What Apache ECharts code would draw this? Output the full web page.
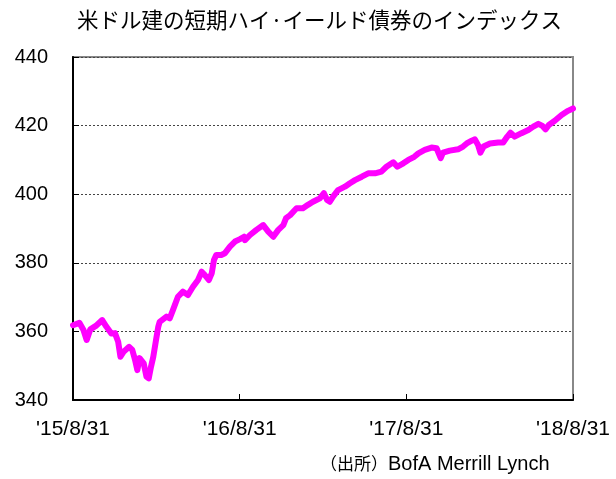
<!DOCTYPE html>
<html>
<head>
<meta charset="utf-8">
<script src="https://cdn.jsdelivr.net/npm/echarts@6/dist/echarts.min.js"></script>
<style>html,body{margin:0;padding:0;background:#fff}#c{width:616px;height:479px}</style>
</head>
<body>
<div id="c"></div>
<script>
const titleText = "米ドル建の短期ハイ·イールド債券のインデックス";
const sourcePrefix = "（出所）";
const sourceName = "BofA Merrill Lynch";
const startDate = "2015-08-31";
const endDate = "2018-08-31";
const xTickLabels = ["'15/8/31", "'16/8/31", "'17/8/31", "'18/8/31"];
const yTicks = [340, 360, 380, 400, 420, 440];

const dates = [
  "2015-08-31","2015-09-14","2015-09-23","2015-09-30","2015-10-08","2015-10-20","2015-11-03","2015-11-12",
  "2015-11-23","2015-12-01","2015-12-08","2015-12-13","2015-12-20","2016-01-01","2016-01-08","2016-01-14",
  "2016-01-19","2016-01-24","2016-02-02","2016-02-08","2016-02-13","2016-02-18","2016-02-23","2016-02-29",
  "2016-03-05","2016-03-08","2016-03-12","2016-03-23","2016-03-30","2016-04-06","2016-04-17","2016-04-28",
  "2016-05-09","2016-05-20","2016-05-31","2016-06-08","2016-06-15","2016-06-24","2016-06-30","2016-07-05",
  "2016-07-10","2016-07-21","2016-07-29","2016-08-09","2016-08-20","2016-08-31","2016-09-09","2016-09-11",
  "2016-09-22","2016-10-06","2016-10-21","2016-11-01","2016-11-12","2016-11-23","2016-12-04","2016-12-10",
  "2016-12-19","2017-01-02","2017-01-16","2017-01-27","2017-02-07","2017-02-22","2017-03-03","2017-03-10",
  "2017-03-16","2017-03-23","2017-04-03","2017-04-18","2017-04-29","2017-05-10","2017-05-25","2017-06-08",
  "2017-06-23","2017-07-07","2017-07-18","2017-08-02","2017-08-11","2017-08-24","2017-09-04","2017-09-17",
  "2017-09-26","2017-10-10","2017-10-25","2017-11-05","2017-11-14","2017-11-19","2017-12-04","2017-12-22",
  "2018-01-02","2018-01-10","2018-01-21","2018-01-28","2018-02-04","2018-02-09","2018-02-16","2018-03-02",
  "2018-03-20","2018-03-31","2018-04-09","2018-04-16","2018-04-25","2018-05-10","2018-05-25","2018-06-05",
  "2018-06-16","2018-06-25","2018-07-02","2018-07-09","2018-07-22","2018-08-06","2018-08-20","2018-08-31"
];
const values = [
  361.8,362.5,360.4,357.5,360.6,361.6,363.3,361.4,
  359.4,359.5,357.0,352.6,354.1,355.5,354.6,351.7,
  348.7,352.2,350.7,346.8,346.3,349.7,352.6,357.5,
  361.4,362.8,363.3,364.3,363.8,366.2,370.1,371.6,
  370.6,373.0,375.0,377.4,376.4,375.0,376.9,380.8,
  382.3,382.3,382.8,384.7,386.2,386.9,387.6,386.6,
  388.1,389.6,391.0,389.1,387.6,389.6,391.0,393.0,
  393.9,395.9,395.9,396.9,397.8,398.8,400.3,398.3,
  397.8,399.3,401.2,402.2,403.2,404.1,405.1,406.1,
  406.1,406.6,408.0,409.3,408.0,409.0,410.0,410.9,
  411.9,412.9,413.6,413.4,410.5,412.1,412.7,413.1,
  413.9,414.8,415.6,416.0,414.3,412.1,413.9,414.8,
  415.1,415.1,416.8,417.9,416.8,417.8,418.7,419.7,
  420.5,419.9,418.9,420.2,421.4,423.1,424.3,425.0
];

const DAY = 86400000;
const t0 = Date.parse(startDate);
const totalDays = (Date.parse(endDate) - t0) / DAY;
const xInterval = totalDays / (xTickLabels.length - 1);
const seriesData = dates.map((d, i) => [(Date.parse(d) - t0) / DAY, values[i]]);

const chart = echarts.init(document.getElementById('c'), null, {renderer: 'canvas'});
chart.setOption({
  animation: false,
  backgroundColor: '#fff',
  title: {
    text: titleText, left: 72, top: 4,
    textStyle: {fontFamily: '"Noto Sans CJK JP", sans-serif', fontSize: 21.5, fontWeight: 'normal', color: '#000'}
  },
  grid: {left: 73, right: 43, top: 57, bottom: 79, show: true, borderColor: '#888', borderWidth: 2, backgroundColor: 'transparent'},
  xAxis: {
    type: 'value', min: 0, max: totalDays, interval: xInterval,
    axisLine: {show: true, lineStyle: {color: '#000', width: 2}},
    axisTick: {show: true, inside: true, length: 6, lineStyle: {color: '#000', width: 1}},
    splitLine: {show: false},
    axisLabel: {
      margin: 19, fontSize: 21, color: '#000', fontFamily: '"Liberation Sans", Arial, sans-serif',
      formatter: v => xTickLabels[Math.round(v / xInterval)] || ''
    }
  },
  yAxis: {
    type: 'value', min: yTicks[0], max: yTicks[yTicks.length - 1], interval: yTicks[1] - yTicks[0],
    axisLine: {show: true, lineStyle: {color: '#000', width: 2}},
    axisTick: {show: true, inside: true, length: 6, lineStyle: {color: '#000', width: 1}},
    splitLine: {show: true, lineStyle: {color: '#444', type: [2, 2], width: 1}},
    axisLabel: {margin: 25, fontSize: 20, color: '#000', fontFamily: '"Liberation Sans", Arial, sans-serif'}
  },
  series: [{
    type: 'line', data: seriesData, showSymbol: false, symbol: 'none',
    lineStyle: {color: '#FF00FF', width: 6, cap: 'round', join: 'round'},
    z: 3
  }],
  graphic: [{
    type: 'text', left: 320, top: 454,
    style: {
      text: '{a|' + sourcePrefix + '}{b|' + sourceName + '}',
      rich: {
        a: {fontFamily: '"Noto Sans CJK JP", sans-serif', fontSize: 17, fill: '#000', color: '#000'},
        b: {fontFamily: '"Liberation Sans", Arial, sans-serif', fontSize: 20, fill: '#000', color: '#000'}
      }
    }
  }]
});
</script>
</body>
</html>
